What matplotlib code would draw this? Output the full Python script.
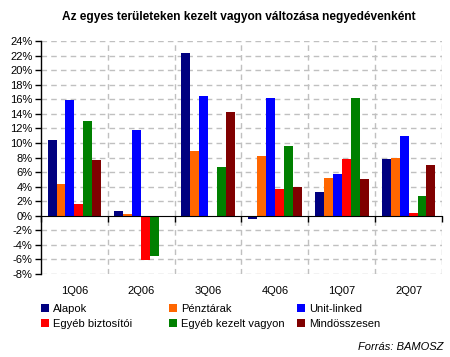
import matplotlib
matplotlib.use('Agg')
import matplotlib.pyplot as plt
from matplotlib.patches import Patch
from matplotlib.ticker import FuncFormatter, FixedLocator
import matplotlib.transforms as mtransforms
import numpy as np

plt.rcParams['font.family'] = ['Liberation Sans', 'DejaVu Sans']

## data
quarters = ['1Q06', '2Q06', '3Q06', '4Q06', '1Q07', '2Q07']
series = ['Alapok', 'Pénztárak', 'Unit-linked',
          'Egyéb biztosítói', 'Egyéb kezelt vagyon', 'Mindösszesen']
alapok = [10.4, 0.7, 22.3, -0.4, 3.2, 7.8]
penztarak = [4.4, 0.3, 8.9, 8.2, 5.2, 8.0]
unit_linked = [15.9, 11.8, 16.5, 16.2, 5.8, 11.0]
egyeb_bizt = [1.6, -6.1, -0.2, 3.7, 7.8, 0.4]
egyeb_kezelt = [13.0, -5.5, 6.7, 9.6, 16.2, 2.7]
mindossz = [7.6, 0.0, 14.3, 4.0, 5.1, 7.0]
values = [alapok, penztarak, unit_linked, egyeb_bizt, egyeb_kezelt, mindossz]
colors = ['#000080', '#FF6600', '#0000FF', '#FF0000', '#008000', '#800000']

#########################################################################
## plot
fig = plt.figure(figsize=(4.5, 3.57), dpi=100)
ax = fig.add_axes([41/450, 83/357, 401/450, 233/357])

x = np.arange(len(quarters))
w = 0.134
for k, (vals, col) in enumerate(zip(values, colors)):
    ax.bar(x + (k - 2.5) * w, vals, width=w, color=col, linewidth=0, zorder=3)

ax.set_xlim(-0.5, len(quarters) - 0.5)
ax.set_ylim(-8, 24)
ax.set_yticks(np.arange(-8, 25, 2))
ax.yaxis.set_major_formatter(FuncFormatter(lambda v, p: '%d%%' % v))
ax.tick_params(axis='y', labelsize=8, length=4, width=1, pad=2)

# grid
grid_kw = dict(color='#c0c0c0', linestyle=(0, (4, 3)), linewidth=1, zorder=1)
for yv in np.arange(-8, 25, 2):
    if yv != 0:
        ax.axhline(yv, **grid_kw)
for xv in np.arange(0.5, len(quarters), 1.0):
    ax.axvline(xv, **grid_kw)

# axes lines
for s in ['top', 'right']:
    ax.spines[s].set_visible(False)
ax.spines['bottom'].set_position(('data', 0))
ax.spines['bottom'].set_zorder(4)
ax.spines['left'].set_linewidth(1)
ax.xaxis.set_major_locator(FixedLocator(np.arange(-0.5, len(quarters), 1.0)))
ax.tick_params(axis='x', length=4, width=1, labelbottom=False)

# category labels under the plot area
trans = mtransforms.blended_transform_factory(ax.transData, ax.transAxes)
for xi, q in zip(x, quarters):
    ax.text(xi, -17/233, q, transform=trans, ha='center', va='center', fontsize=8)

fig.text(239/450, 1 - 17/357,
         'Az egyes területeken kezelt vagyon változása negyedévenként',
         ha='center', va='center', fontsize=8.6, fontweight='bold')

# legend in three fixed columns
handles = [Patch(facecolor=c, edgecolor='none') for c in colors]
col_x = [41, 169, 297]
for c in range(3):
    idx = [c, c + 3]
    leg = fig.legend([handles[i] for i in idx], [series[i] for i in idx],
                     loc='upper left', bbox_to_anchor=(col_x[c]/450, 1 - 304/357),
                     frameon=False, fontsize=8, handlelength=0.7, handleheight=0.7,
                     handletextpad=0.35, labelspacing=0.42, borderpad=0, borderaxespad=0)

fig.text(443/450, 1 - 347/357, 'Forrás: BAMOSZ', ha='right', va='center',
         fontsize=8, style='italic')

plt.savefig('out.png', dpi=100)
